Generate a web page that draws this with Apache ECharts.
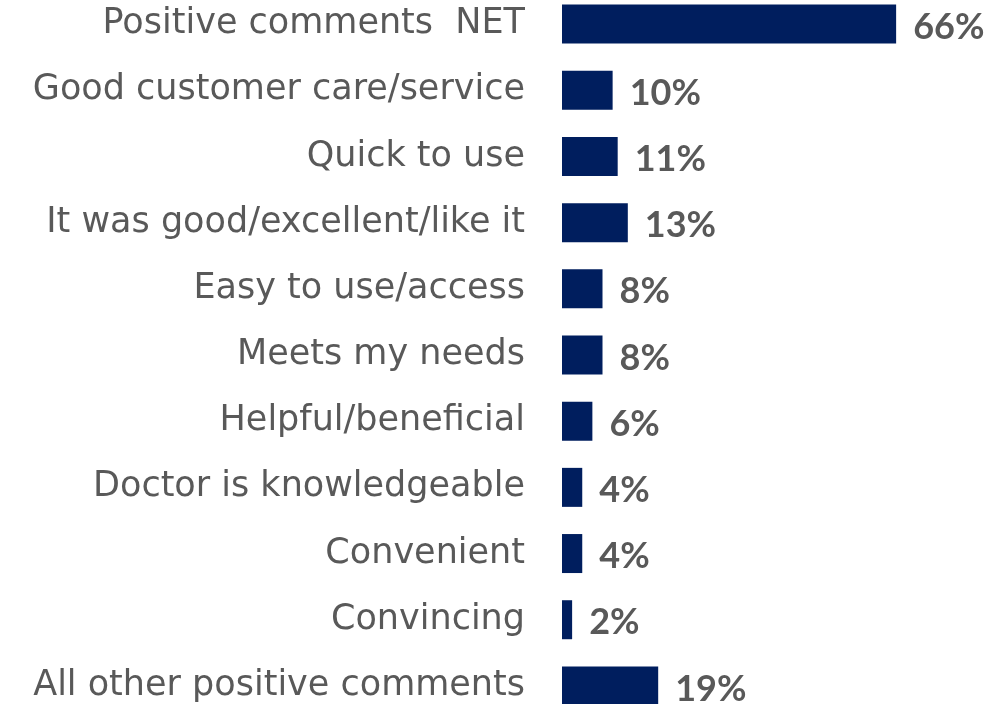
<!DOCTYPE html>
<html>
<head>
<meta charset="utf-8">
<script src="https://cdn.jsdelivr.net/npm/echarts@6/dist/echarts.min.js"></script>
<style>
  html, body { margin: 0; padding: 0; background: #ffffff; }
  #chart { width: 987px; height: 704px; }
</style>
</head>
<body>
<div id="chart"></div>
<script>
// Positive feedback themes, share of respondents (%)
const categories = [
  'Positive comments  NET',
  'Good customer care/service',
  'Quick to use',
  'It was good/excellent/like it',
  'Easy to use/access',
  'Meets my needs',
  'Helpful/beneficial',
  'Doctor is knowledgeable',
  'Convenient',
  'Convincing',
  'All other positive comments'
];
const values = [66, 10, 11, 13, 8, 8, 6, 4, 4, 2, 19];

const chart = echarts.init(document.getElementById('chart'));
chart.setOption({
  animation: false,
  backgroundColor: '#ffffff',
  grid: {
    left: 562, top: -9, height: 728, width: 405,
    containLabel: false,
    outerBoundsMode: 'none'
  },
  xAxis: { type: 'value', min: 0, max: 80, show: false },
  yAxis: {
    type: 'category',
    data: categories,
    inverse: true,
    axisLine: { show: false },
    axisTick: { show: false },
    splitLine: { show: false },
    axisLabel: {
      margin: 37,
      color: '#595959',
      fontFamily: 'DejaVu Sans',
      fontSize: 35,
      padding: [0, 0, 10, 0]
    }
  },
  series: [{
    type: 'bar',
    data: values,
    barWidth: 39,
    itemStyle: { color: '#001e5e' },
    label: {
      show: true,
      position: 'right',
      distance: 17,
      offset: [0, 3],
      formatter: '{c}%',
      color: '#595959',
      fontFamily: 'Lato',
      fontWeight: 'bold',
      fontSize: 36
    }
  }]
});
</script>
</body>
</html>
